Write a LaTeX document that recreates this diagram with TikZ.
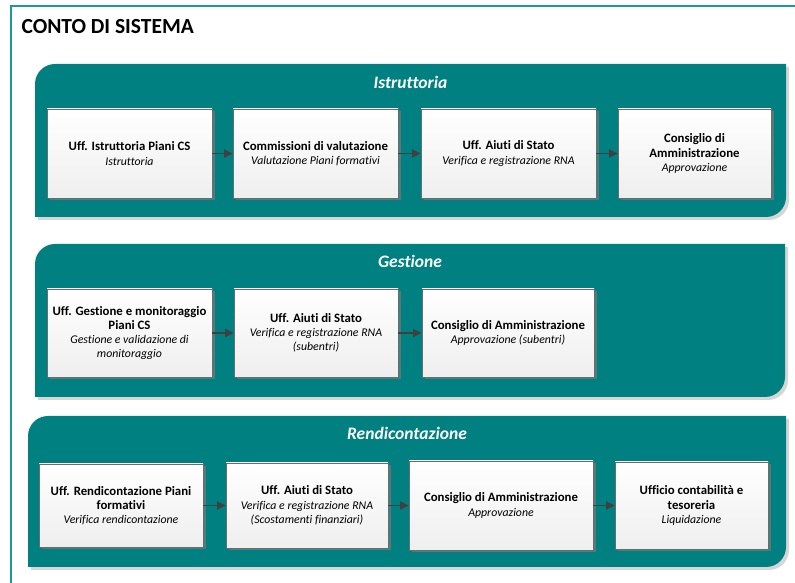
\documentclass[tikz,border=0pt]{standalone}
\usepackage{fontspec}
\setmainfont{Carlito}[RawFeature=-liga]
\usetikzlibrary{arrows.meta,shadows}
\definecolor{tealbg}{HTML}{008080}
\definecolor{frame}{HTML}{1E9A96}
\definecolor{boxline}{HTML}{6B6B6B}
\definecolor{arrowc}{HTML}{404040}
\definecolor{pshadow}{HTML}{D6D6D6}
\definecolor{bshadow}{HTML}{4F7C7C}
\tikzset{
  stepbox/.style={draw=boxline, line width=0.8pt, top color=white, bottom color=gray!13,
    align=center, inner sep=2pt, anchor=center,
    font=\fontsize{12.8}{14.2}\selectfont,
    drop shadow={shadow xshift=2.5pt, shadow yshift=-2.5pt, fill=bshadow, opacity=1}},
  flow/.style={draw=arrowc, line width=1.7pt, -{Triangle[length=8.5pt,width=8pt]}},
  ptitle/.style={text=white, font=\fontsize{17.5}{19}\selectfont\bfseries\itshape},
}
\newcommand{\sub}[1]{{\fontsize{11.8}{14.2}\selectfont\itshape #1}}
\newcommand{\panelshape}[5]{% x1 Y1(top) x2 Y2(bottom) r
  \fill[pshadow] (#1+3,#4-3) -- (#1+3,#2-#5-3) arc[start angle=180,end angle=90,radius=#5] -- (#3+3,#2-3) -- (#3+3,#4+#5-3) arc[start angle=0,end angle=-90,radius=#5] -- cycle;
  \fill[tealbg] (#1,#4) -- (#1,#2-#5) arc[start angle=180,end angle=90,radius=#5] -- (#3,#2) -- (#3,#4+#5) arc[start angle=0,end angle=-90,radius=#5] -- cycle;
}
\begin{document}
\begin{tikzpicture}[x=1pt,y=1pt]
\useasboundingbox (0,0) rectangle (795,583);
\fill[white] (0,0) rectangle (795,583);
\draw[frame, line width=1.3pt] (11,-20) -- (11,577) -- (820,577);
\node[anchor=west, font=\fontsize{21.5}{24}\selectfont\bfseries] (title) at (18,556) {CONTO DI SISTEMA};

% Panel 1
\panelshape{35}{519}{786}{366}{20}
\node[ptitle] (t1) at (410.5,501) {Istruttoria};
\node[stepbox, minimum width=165pt, minimum height=89pt] (a1) at (129.5,429.5) {\textbf{Uff. Istruttoria Piani CS}\\\sub{Istruttoria}};
\node[stepbox, minimum width=165pt, minimum height=89pt] (a2) at (315.5,429.5) {\textbf{Commissioni di valutazione}\\\sub{Valutazione Piani formativi}};
\node[stepbox, minimum width=175pt, minimum height=89pt] (a3) at (508.5,429.5) {\textbf{Uff. Aiuti di Stato}\\\sub{Verifica e registrazione RNA}};
\node[stepbox, minimum width=153pt, minimum height=89pt] (a4) at (694.5,429.5) {\textbf{Consiglio di}\\\textbf{Amministrazione}\\\sub{Approvazione}};
\draw[flow] (a1) -- (a2);
\draw[flow] (a2) -- (a3);
\draw[flow] (a3) -- (a4);

% Panel 2
\panelshape{35}{339}{785}{186}{20}
\node[ptitle] (t2) at (410,322) {Gestione};
\node[stepbox, minimum width=165pt, minimum height=88pt] (b1) at (129.5,250) {\textbf{Uff. Gestione e monitoraggio}\\\textbf{Piani CS}\\\sub{Gestione e validazione di}\\\sub{monitoraggio}};
\node[stepbox, minimum width=164pt, minimum height=88pt] (b2) at (316,250) {\textbf{Uff. Aiuti di Stato}\\\sub{Verifica e registrazione RNA}\\\sub{(subentri)}};
\node[stepbox, minimum width=172pt, minimum height=88pt] (b3) at (508,250) {\textbf{Consiglio di Amministrazione}\\\sub{Approvazione (subentri)}};
\draw[flow] (b1) -- (b2);
\draw[flow] (b2) -- (b3);

% Panel 3
\panelshape{28}{167}{786}{16}{20}
\node[ptitle] (t3) at (407,150) {Rendicontazione};
\node[stepbox, minimum width=164pt, minimum height=83pt] (c1) at (121,77.5) {\textbf{Uff. Rendicontazione Piani}\\\textbf{formativi}\\\sub{Verifica rendicontazione}};
\node[stepbox, minimum width=162pt, minimum height=85pt] (c2) at (307,77.5) {\textbf{Uff. Aiuti di Stato}\\\sub{Verifica e registrazione RNA}\\\sub{(Scostamenti finanziari)}};
\node[stepbox, minimum width=184pt, minimum height=89pt] (c3) at (501,77.5) {\textbf{Consiglio di Amministrazione}\\\sub{Approvazione}};
\node[stepbox, minimum width=153pt, minimum height=87pt] (c4) at (691.5,77.5) {\textbf{Ufficio contabilità e}\\\textbf{tesoreria}\\\sub{Liquidazione}};
\draw[flow] (c1) -- (c2);
\draw[flow] (c2) -- (c3);
\draw[flow] (c3) -- (c4);
\end{tikzpicture}
\end{document}
